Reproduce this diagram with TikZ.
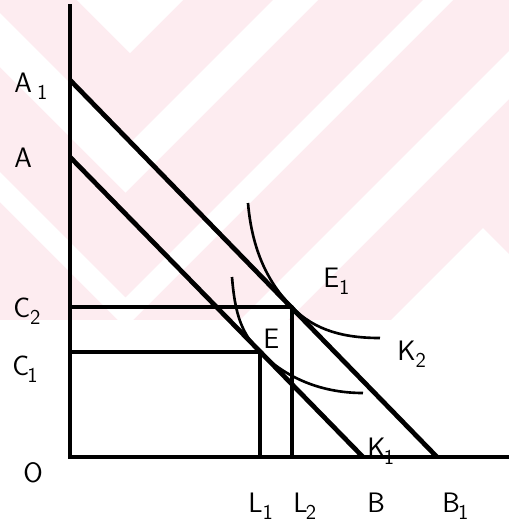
\documentclass[tikz,border=0pt]{standalone}
\usepackage{xcolor}
\definecolor{wmpink}{RGB}{253,236,240}
\newcommand{\lab}[3]{#1\kern#3\raisebox{-4pt}{\fontsize{12}{14}\selectfont #2}}

\begin{document}
\begin{tikzpicture}[
    x=0.02cm, y=-0.02cm,
    axis/.style={line width=2.2pt},
    budget/.style={line width=2.7pt},
    guide/.style={line width=1.8pt},
    curve/.style={line width=1.5pt},
    lbl/.style={anchor=base west, inner sep=0pt, font=\sffamily\fontsize{16}{19}\selectfont},
    line join=round
]
\useasboundingbox (0,0) rectangle (509,529);

% Watermark
\fill[wmpink] (0,0) rectangle (509,320);
\fill[white] (77,0) -- (130,53) -- (183,0) -- cycle;
\fill[white] (0,13) -- (130,143) -- (273,0) -- (318,0) -- (125.5,192.5) -- (0,67) -- cycle;
\fill[white] (0,172) -- (125.5,297.5) -- (423,0) -- (453,0) -- (133,320) -- (118,320) -- (0,202) -- cycle;
\fill[white] (240,320) -- (509,51) -- (509,99) -- (288,320) -- cycle;
\fill[white] (391,320) -- (483,228) -- (509,254) -- (509,320) -- cycle;

% Points
\coordinate (O) at (70,457);
\coordinate (Y) at (70,4);
\coordinate (X) at (509,457);
\coordinate (A1) at (70,80);
\coordinate (A) at (70,157);
\coordinate (B1) at (437,457);
\coordinate (B) at (363,457);
\coordinate (E1) at (292,307);
\coordinate (E) at (260,352);

% Axes
\draw[axis, line join=miter] (Y) -- (O) -- (X);

% Budget lines
\draw[budget] (A1) -- (B1);
\draw[budget] (A) -- (B);

% Projections
\draw[guide] (E1 -| O) -- (E1) -- (E1 |- O);
\draw[guide] (E -| O) -- (E) -- (E |- O);

% Indifference curves
\draw[curve] (248,203) .. controls (252,250) and (268,283) .. (E1)
    .. controls (315,331) and (345,338) .. (380,338);
\draw[curve] (232,277) .. controls (235,315) and (242,334) .. (E)
    .. controls (285,377) and (320,393) .. (363,393);

% Labels
\node[lbl] (lA1) at (14,92) {\lab{A}{1}{3pt}};
\node[lbl] (lA) at (14,167) {A};
\node[lbl] (lC2) at (13,317) {\lab{C}{2}{0pt}};
\node[lbl] (lC1) at (12,375) {\lab{C}{1}{-1pt}};
\node[lbl] (lO) at (23,482) {O};
\node[lbl] (lL1) at (248,512) {\lab{L}{1}{0pt}};
\node[lbl] (lL2) at (293,512) {\lab{L}{2}{-1pt}};
\node[lbl] (lB) at (367,512) {B};
\node[lbl] (lB1) at (442,512) {\lab{B}{1}{-1pt}};
\node[lbl] (lK1) at (367,457) {\lab{K}{1}{-1pt}};
\node[lbl] (lK2) at (397,360) {\lab{K}{2}{0pt}};
\node[lbl] (lE1) at (323,287) {\lab{E}{1}{0pt}};
\node[lbl] (lE) at (263,348) {E};
\end{tikzpicture}
\end{document}
